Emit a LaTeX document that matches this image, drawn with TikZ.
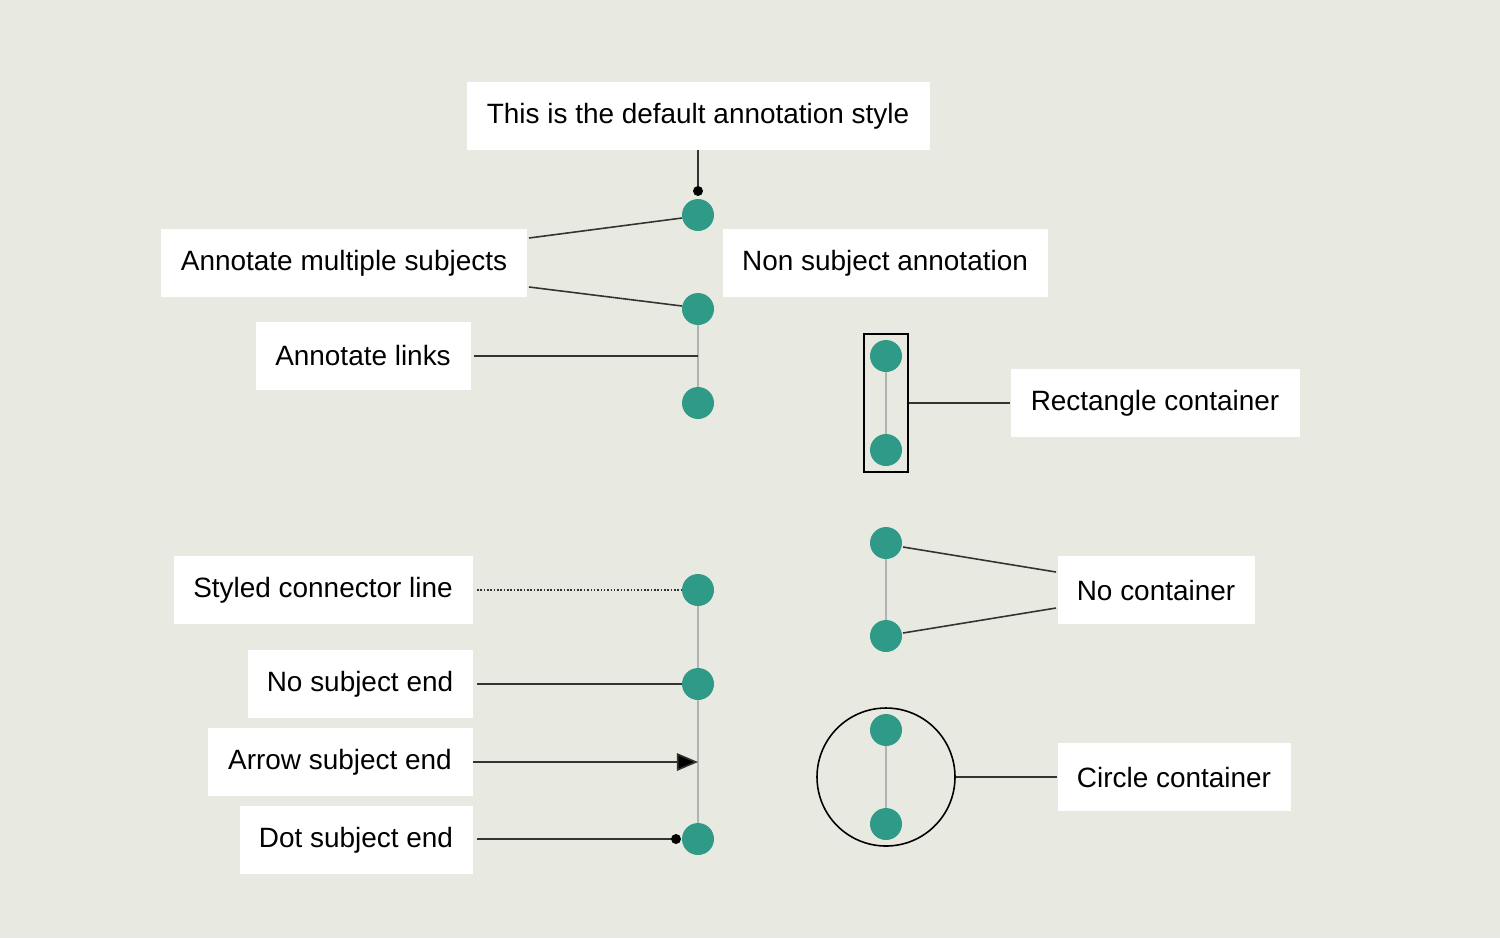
\documentclass[tikz,border=0pt]{standalone}
\usepackage{fontspec}
\setmainfont{Liberation Sans}
\usetikzlibrary{arrows.meta}
\definecolor{bg}{HTML}{E8EAE1}
\definecolor{teal}{HTML}{2E9A87}
\definecolor{ln}{HTML}{333333}
\begin{document}
\begin{tikzpicture}[x=0.02cm,y=-0.02cm,
  lab/.style={fill=white,inner sep=0pt,font=\fontsize{15.9}{18}\selectfont},
  subj/.style={circle,fill=teal,minimum size=0.64cm,inner sep=0pt},
  con/.style={ln,line width=0.9pt},
  glink/.style={gray!60,line width=0.8pt}]
\fill[bg] (0,0) rectangle (1500,938);
\useasboundingbox (0,0) rectangle (1500,938);
% label boxes
\newcommand\labbox[4]{\node[lab,minimum width=#2*0.02cm,minimum height=68*0.02cm] (#1) at (#3) {#4};}
\labbox{t}{463}{698,116}{This is the default annotation style}
\labbox{m}{366}{344,263}{Annotate multiple subjects}
\labbox{n}{325}{885,263}{Non subject annotation}
\labbox{l}{215}{363,356}{Annotate links}
\labbox{r}{289}{1155,403}{Rectangle container}
\labbox{nc}{197}{1156,590}{No container}
\labbox{cc}{233}{1174,777}{Circle container}
\labbox{s}{299}{323,590}{Styled connector line}
\labbox{ns}{225}{360,684}{No subject end}
\labbox{as}{265}{340,762}{Arrow subject end}
\labbox{ds}{233}{356,840}{Dot subject end}
% links
\draw[glink] (698,309) -- (698,403);
\draw[glink] (886,356) -- (886,450);
\draw[glink] (886,543) -- (886,636);
\draw[glink] (886,730) -- (886,824);
\draw[glink] (698,590) -- (698,839);
% subjects
\node[subj] (a1) at (698,215) {};
\node[subj] (a2) at (698,309) {};
\node[subj] (a3) at (698,403) {};
\node[subj] (b1) at (886,356) {};
\node[subj] (b2) at (886,450) {};
\node[subj] (c1) at (886,543) {};
\node[subj] (c2) at (886,636) {};
\node[subj] (d1) at (886,730) {};
\node[subj] (d2) at (886,824) {};
\node[subj] (e1) at (698,590) {};
\node[subj] (e2) at (698,684) {};
\node[subj] (e4) at (698,839) {};
% containers
\node[draw=black,line width=0.9pt,minimum width=44*0.02cm,minimum height=138*0.02cm,inner sep=0pt] (rb) at (886,403) {};
\node[draw=black,line width=0.9pt,circle,minimum size=138*0.02cm,inner sep=0pt] (cb) at (886,777) {};
% coordinates
\coordinate (tdot) at (698,191);
\coordinate (lk) at (698,356);
\coordinate (ae) at (698,762);
\coordinate (de) at (676,839);
% connectors
\draw[con] (t.south) -- (tdot);
\fill[black] (tdot) circle (5);
\draw[con] (529,238) -- (682,218);
\draw[con] (529,287) -- (682,306);
\draw[con] (l.east) ++(3,0) -- (lk);
\draw[con] (rb.east) -- (r.west);
\draw[con] (903,547) -- (1056,572);
\draw[con] (903,633) -- (1056,608);
\draw[con] (cb.east) -- (cc.west);
\draw[con,densely dotted] (477,590) -- (e1.west);
\draw[con] (477,684) -- (e2.west);
\draw[con,-{Triangle[length=12pt,width=10pt,fill=black]}] (as.east) -- (ae);
\draw[con] (477,839) -- (de);
\fill[black] (de) circle (5);
\end{tikzpicture}
\end{document}
